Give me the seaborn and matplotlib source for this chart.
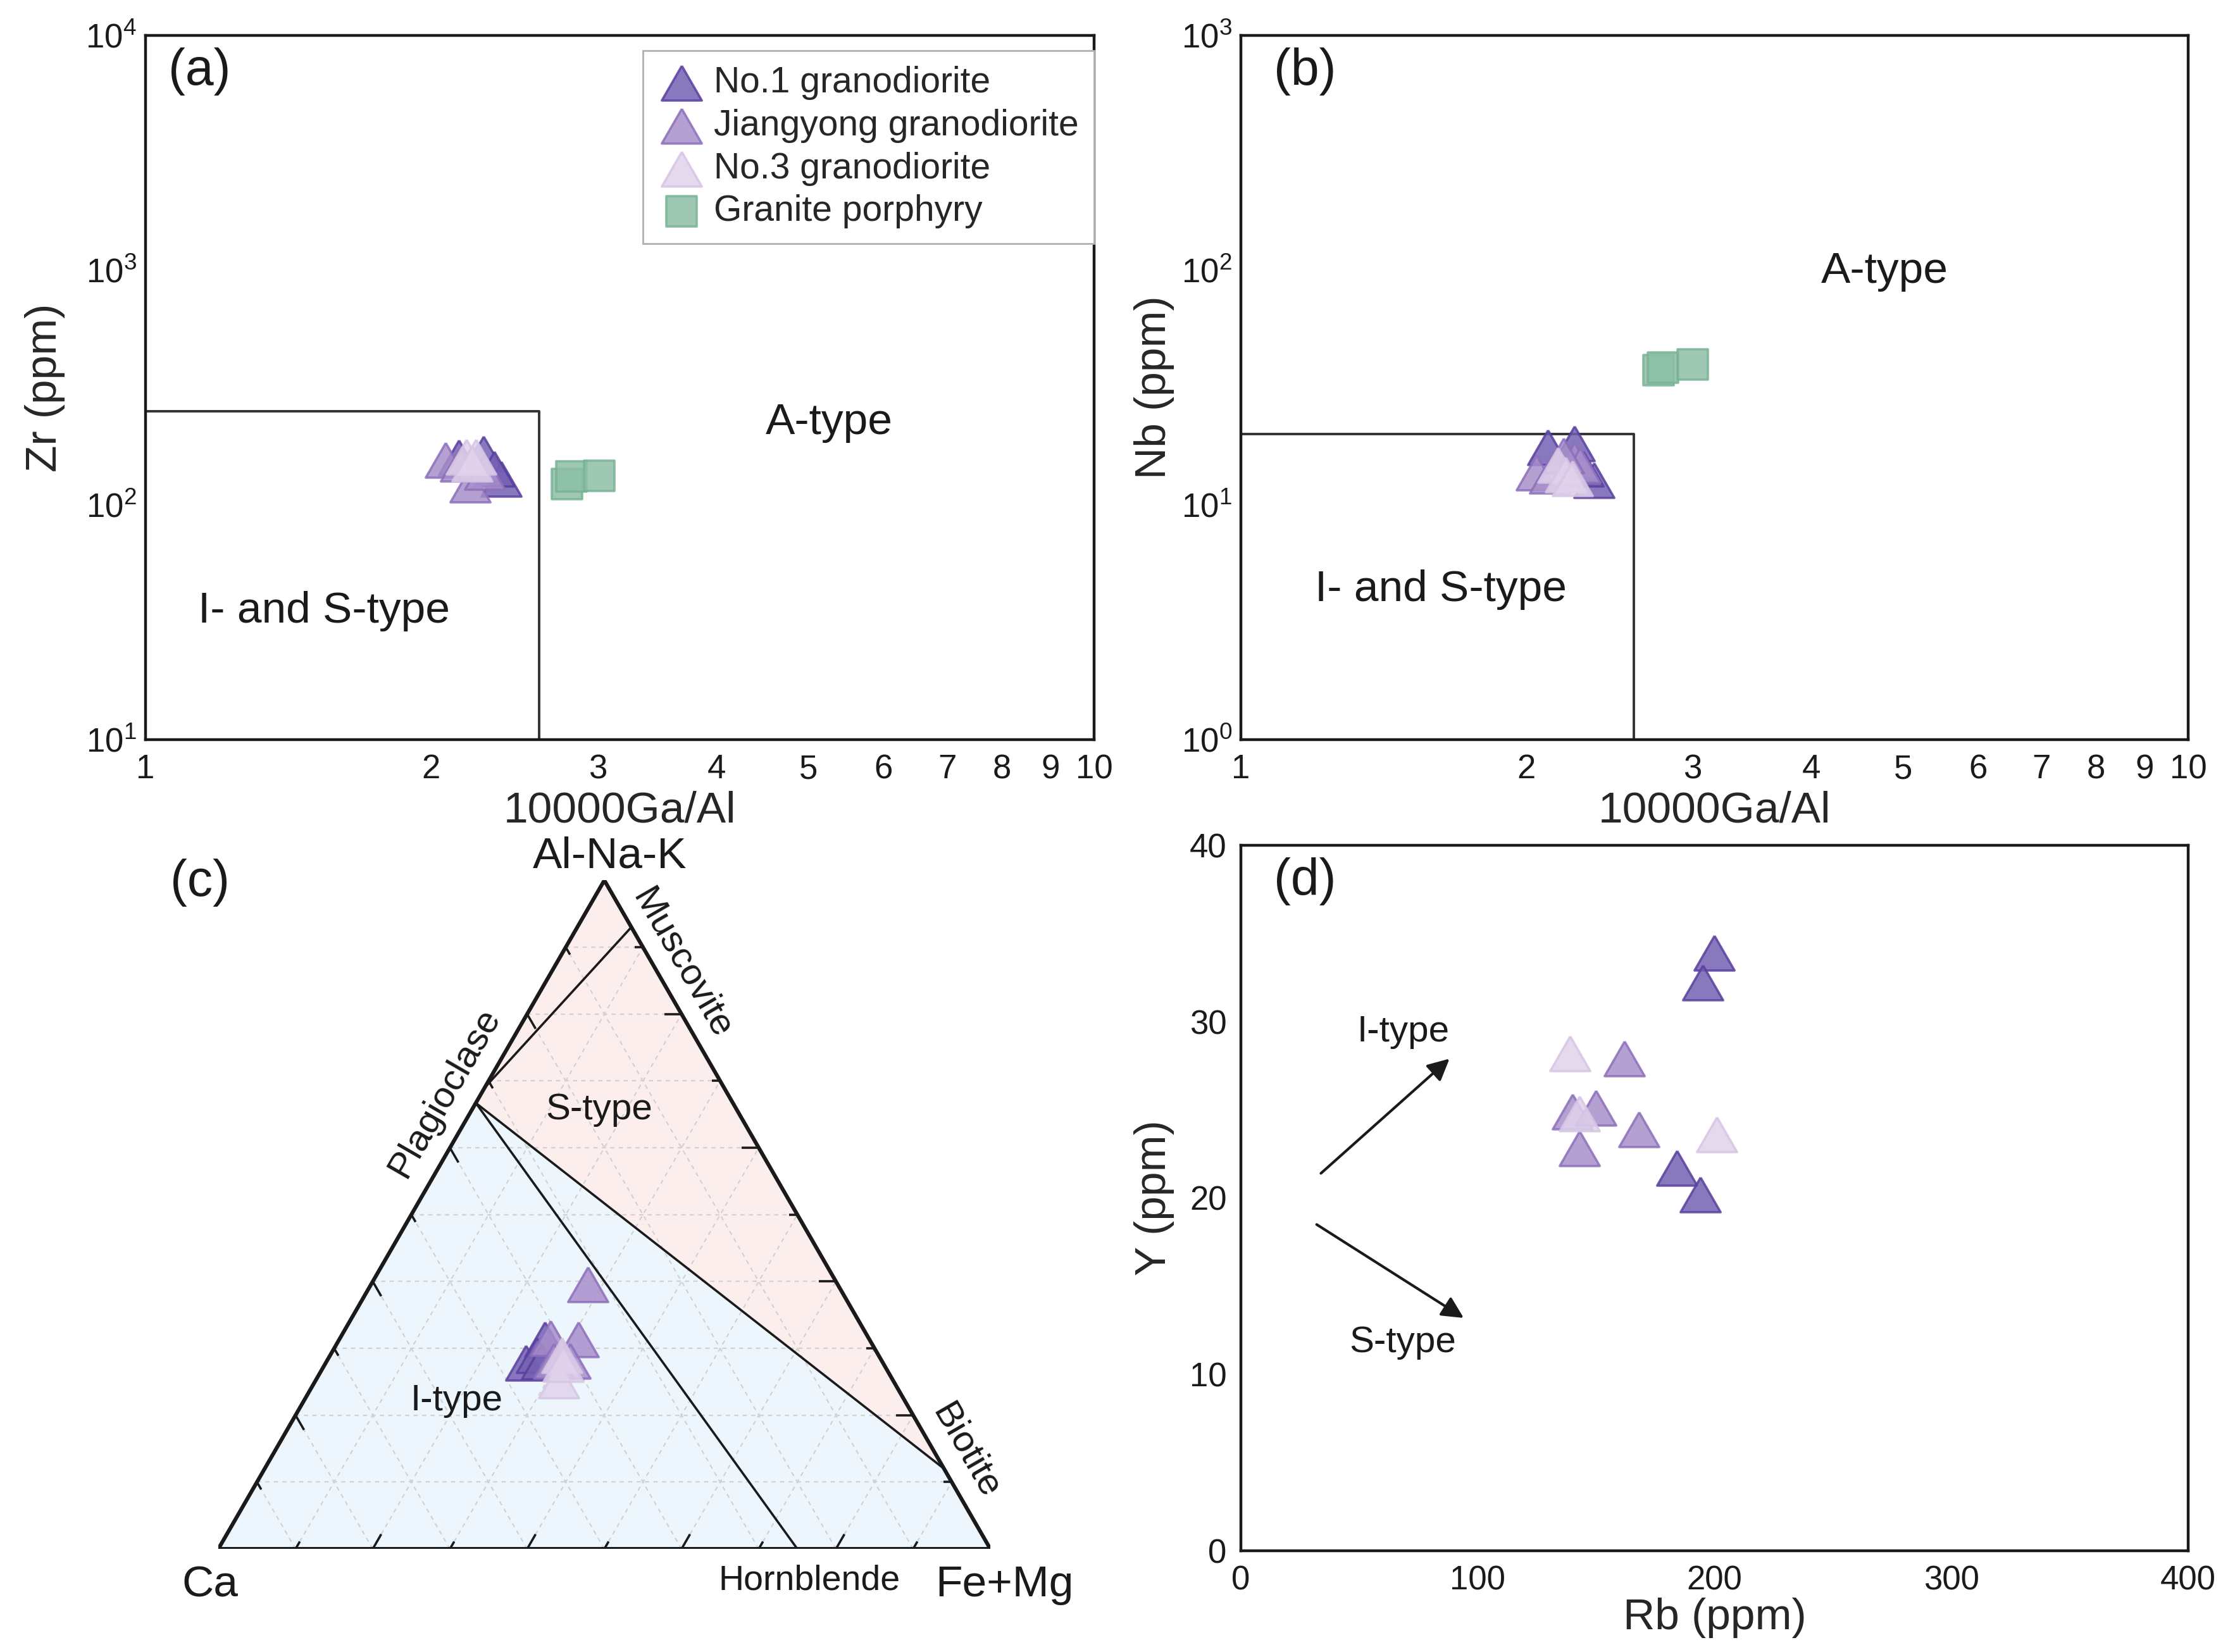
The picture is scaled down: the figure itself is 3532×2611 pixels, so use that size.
import matplotlib
matplotlib.use("Agg")
import matplotlib.pyplot as plt
import matplotlib.ticker as mticker
import numpy as np
import seaborn as sns

# ---------------- data ----------------
GROUPS = ["No.1 granodiorite", "Jiangyong granodiorite", "No.3 granodiorite", "Granite porphyry"]

# (a) 10000Ga/Al vs Zr
ga_al_a_no1 = [2.14, 2.27, 2.37, 2.33]
zr_no1 = [159, 165, 129, 142]
ga_al_a_jy = [2.07, 2.20, 2.15, 2.24, 2.28]
zr_jy = [155, 122, 150, 152, 138]
ga_al_a_no3 = [2.18, 2.23, 2.21]
zr_no3 = [160, 160, 150]
ga_al_a_gp = [2.78, 2.81, 3.01]
zr_gp = [123, 132, 133]

# (b) 10000Ga/Al vs Nb
ga_al_b_no1 = [2.11, 2.25, 2.36, 2.30]
nb_no1 = [17.6, 18.3, 12.7, 14.2]
ga_al_b_jy = [2.05, 2.25, 2.12, 2.28, 2.19]
nb_jy = [13.7, 15.5, 13.3, 14.8, 16.2]
ga_al_b_no3 = [2.16, 2.20, 2.24]
nb_no3 = [14.8, 13.5, 13.0]
ga_al_b_gp = [2.76, 2.79, 3.00]
nb_gp = [37.5, 38.5, 39.7]

# (c) Al-Na-K / Ca / Fe+Mg (%)
al_no1 = [27.8, 31.3, 29.0, 28.0]
ca_no1 = [46.3, 42.1, 44.3, 44.1]
femg_no1 = [25.9, 26.6, 26.7, 27.9]
al_jy = [39.6, 31.5, 31.3, 28.1, 28.1]
ca_jy = [32.3, 41.2, 37.7, 40.4, 42.5]
femg_jy = [28.1, 27.3, 31.0, 31.5, 29.4]
al_no3 = [29.0, 25.2, 27.6]
ca_no3 = [41.0, 43.3, 41.5]
femg_no3 = [30.0, 31.5, 30.9]

# mineral points (Al, Ca, FeMg)
PLAG = (66.7, 33.3, 0.0)
PLAG_TIE = (69.0, 31.0, 0.0)
MUSC = (93.0, 0.0, 7.0)
BIOT = (12.0, 0.0, 88.0)
HBL = (0.0, 25.0, 75.0)

# (d) Rb vs Y
rb_no1 = [200, 195, 184, 194]
y_no1 = [33.9, 32.2, 21.7, 20.2]
rb_jy = [162, 140, 150, 168, 143]
y_jy = [27.9, 24.9, 25.1, 23.9, 22.8]
rb_no3 = [139, 143, 201]
y_no3 = [28.2, 24.8, 23.6]

# discrimination boundaries
box_a_x = [1, 2.6, 2.6]
box_a_y = [250, 250, 10]
box_b_x = [1, 2.6, 2.6]
box_b_y = [20, 20, 1]

COLORS = {
    "No.1 granodiorite": ("#7360B2", "#5A3F9E"),
    "Jiangyong granodiorite": ("#A88FCB", "#8D6FBB"),
    "No.3 granodiorite": ("#E1D3EC", "#D6C5E4"),
    "Granite porphyry": ("#8DBFA7", "#78B394"),
}

TRI = [(0, 0.433), (-0.5, -0.433), (0.5, -0.433), (0, 0.433)]
TRI_S = 520
SQ_S = 310

sns.set_style("white")
plt.rcParams["font.family"] = ["Liberation Sans", "DejaVu Sans"]
plt.rcParams["mathtext.default"] = "regular"

INK = "#1a1a1a"


def scatter_group(ax, x, y, name, marker, s, zorder=4):
    face, edge = COLORS[name]
    sns.scatterplot(x=x, y=y, ax=ax, marker=marker, s=s, color=face,
                    edgecolor=edge, linewidth=1.3, alpha=0.85, label=name,
                    legend=False, zorder=zorder, clip_on=False)


def style_axes(ax):
    for sp in ax.spines.values():
        sp.set_linewidth(1.6)
        sp.set_color(INK)
    ax.tick_params(which="both", direction="in", top=False, right=False,
                   colors=INK, labelsize=19, width=1.2)
    ax.tick_params(which="major", length=9)
    ax.tick_params(which="minor", length=5)
    ax.tick_params(axis="x", pad=8)
    ax.tick_params(axis="y", pad=5)


def log_axes(ax, ymin, ymax):
    ax.set_xscale("log")
    ax.set_yscale("log")
    ax.set_xlim(1, 10)
    ax.set_ylim(ymin, ymax)
    ax.xaxis.set_major_locator(mticker.FixedLocator(range(1, 11)))
    ax.xaxis.set_major_formatter(mticker.FuncFormatter(lambda v, p: f"{v:g}"))
    ax.xaxis.set_minor_locator(mticker.NullLocator())
    ax.yaxis.set_major_locator(mticker.LogLocator(base=10))
    ax.yaxis.set_major_formatter(mticker.LogFormatterMathtext())
    ax.yaxis.set_minor_locator(mticker.LogLocator(base=10, subs=np.arange(2, 10)))
    ax.yaxis.set_minor_formatter(mticker.NullFormatter())


def tern(al, ca, femg):
    al, ca, femg = np.asarray(al, float), np.asarray(ca, float), np.asarray(femg, float)
    tot = al + ca + femg
    a, f = al / tot, femg / tot
    return f + a / 2, a * np.sqrt(3) / 2


fig = plt.figure(figsize=(17.66, 13.055), dpi=200)

# ---------------- (a) ----------------
ax_a = fig.add_axes([0.0651, 0.5523, 0.4244, 0.4263])
log_axes(ax_a, 10, 1e4)
ax_a.plot(box_a_x, box_a_y, color="#333333", lw=1.4, zorder=2)
scatter_group(ax_a, ga_al_a_no1, zr_no1, GROUPS[0], TRI, TRI_S)
scatter_group(ax_a, ga_al_a_jy, zr_jy, GROUPS[1], TRI, TRI_S)
scatter_group(ax_a, ga_al_a_no3, zr_no3, GROUPS[2], TRI, TRI_S)
scatter_group(ax_a, ga_al_a_gp, zr_gp, GROUPS[3], "s", SQ_S)
style_axes(ax_a)
ax_a.set_xlabel("10000Ga/Al", fontsize=25)
ax_a.set_ylabel("Zr (ppm)", fontsize=25)
ax_a.xaxis.set_label_coords(0.5, -0.072)
ax_a.yaxis.set_label_coords(-0.085, 0.5)
ax_a.text(0.721, 0.45, "A-type", transform=ax_a.transAxes, fontsize=25,
          ha="center", va="center", color=INK)
ax_a.text(0.188, 0.182, "I- and S-type", transform=ax_a.transAxes, fontsize=25,
          ha="center", va="center", color=INK)
leg = ax_a.legend(loc="upper right", bbox_to_anchor=(1.0, 0.978), frameon=True,
                  fancybox=False, fontsize=20.5, handletextpad=0.25,
                  labelspacing=0.24, borderpad=0.42, handlelength=1.3,
                  borderaxespad=0, framealpha=1)
leg.get_frame().set_edgecolor("#b0b0b0")
leg.get_frame().set_linewidth(1.0)

# ---------------- (b) ----------------
ax_b = fig.add_axes([0.5552, 0.5523, 0.4238, 0.4263])
log_axes(ax_b, 1, 1e3)
ax_b.plot(box_b_x, box_b_y, color="#333333", lw=1.4, zorder=2)
scatter_group(ax_b, ga_al_b_no1, nb_no1, GROUPS[0], TRI, TRI_S)
scatter_group(ax_b, ga_al_b_jy, nb_jy, GROUPS[1], TRI, TRI_S)
scatter_group(ax_b, ga_al_b_no3, nb_no3, GROUPS[2], TRI, TRI_S)
scatter_group(ax_b, ga_al_b_gp, nb_gp, GROUPS[3], "s", SQ_S)
style_axes(ax_b)
ax_b.set_xlabel("10000Ga/Al", fontsize=25)
ax_b.set_ylabel("Nb (ppm)", fontsize=25)
ax_b.xaxis.set_label_coords(0.5, -0.072)
ax_b.yaxis.set_label_coords(-0.07, 0.5)
ax_b.text(0.68, 0.665, "A-type", transform=ax_b.transAxes, fontsize=25,
          ha="center", va="center", color=INK)
ax_b.text(0.211, 0.213, "I- and S-type", transform=ax_b.transAxes, fontsize=25,
          ha="center", va="center", color=INK)

# ---------------- (c) ternary ----------------
H = np.sqrt(3) / 2
ax_c = fig.add_axes([0.0977, 0.0624, 0.3454, 0.4047])
ax_c.set_xlim(0, 1)
ax_c.set_ylim(0, H)
ax_c.axis("off")

px, py = tern(*PLAG)
bx, by = tern(*BIOT)
mx, my = tern(*MUSC)
tx, ty = tern(*PLAG_TIE)
hx, hy = tern(*HBL)
ax_c.fill([0, px, bx, 1], [0, py, by, 0], color="#EDF6FD", lw=0, zorder=0)
ax_c.fill([0.5, px, bx], [H, py, by], color="#FDEEEE", lw=0, zorder=0)

# dashed grid
for i in range(1, 10):
    v = i / 10
    gkw = dict(color="#d2d2d2", lw=0.8, ls=(0, (3, 3)), zorder=1)
    ax_c.plot([v / 2, 1 - v / 2], [v * H, v * H], **gkw)
    ax_c.plot([v, v + (1 - v) / 2], [0, (1 - v) * H], **gkw)
    ax_c.plot([1 - v, (1 - v) / 2], [0, (1 - v) * H], **gkw)

# ticks on edges
for i in range(1, 10):
    v = i / 10
    L = 0.022 if i % 2 == 0 else 0.011
    tkw = dict(color=INK, lw=1.3, zorder=3, solid_capstyle="butt")
    ax_c.plot([v, v + 0.5 * L], [0, H * L], **tkw)
    ax_c.plot([v / 2, v / 2 + 0.5 * L], [v * H, v * H - H * L], **tkw)
    ax_c.plot([1 - v / 2, 1 - v / 2 - L], [v * H, v * H], **tkw)

# tie lines
lkw = dict(color=INK, lw=1.3, zorder=2)
ax_c.plot([px, hx], [py, hy], **lkw)
ax_c.plot([px, bx], [py, by], **lkw)
ax_c.plot([tx, mx], [ty, my], **lkw)
ax_c.plot([0, 1, 0.5, 0], [0, 0, H, 0], color=INK, lw=2.2, zorder=3,
          solid_joinstyle="miter")

for al, ca, fm, name in [(al_no1, ca_no1, femg_no1, GROUPS[0]),
                         (al_jy, ca_jy, femg_jy, GROUPS[1]),
                         (al_no3, ca_no3, femg_no3, GROUPS[2])]:
    xx, yy = tern(al, ca, fm)
    scatter_group(ax_c, xx, yy, name, TRI, TRI_S)

ax_c.text(0.507, 0.897, "Al-Na-K", fontsize=25, ha="center", va="center", color=INK)
ax_c.text(-0.011, -0.047, "Ca", fontsize=25, ha="center", va="center", color=INK)
ax_c.text(1.018, -0.047, "Fe+Mg", fontsize=25, ha="center", va="center", color=INK)
ax_c.text(0.766, -0.041, "Hornblende", fontsize=20, ha="center", va="center", color=INK)
ax_c.text(0.293, 0.591, "Plagioclase", fontsize=21, rotation=60, ha="center",
          va="center", color=INK)
ax_c.text(0.60, 0.758, "Muscovite", fontsize=21, rotation=-60, ha="center",
          va="center", color=INK)
ax_c.text(0.968, 0.127, "Biotite", fontsize=21, rotation=-60, ha="center",
          va="center", color=INK)
ax_c.text(0.493, 0.569, "S-type", fontsize=21, ha="center", va="center", color=INK)
ax_c.text(0.309, 0.192, "I-type", fontsize=21, ha="center", va="center", color=INK)

# ---------------- (d) ----------------
ax_d = fig.add_axes([0.5552, 0.0613, 0.4238, 0.4270])
scatter_group(ax_d, rb_no1, y_no1, GROUPS[0], TRI, TRI_S)
scatter_group(ax_d, rb_jy, y_jy, GROUPS[1], TRI, TRI_S)
scatter_group(ax_d, rb_no3, y_no3, GROUPS[2], TRI, TRI_S)
ax_d.set_xlim(0, 400)
ax_d.set_ylim(0, 40)
ax_d.xaxis.set_major_locator(mticker.MultipleLocator(100))
ax_d.xaxis.set_minor_locator(mticker.MultipleLocator(50))
ax_d.yaxis.set_major_locator(mticker.MultipleLocator(10))
ax_d.yaxis.set_minor_locator(mticker.MultipleLocator(5))
style_axes(ax_d)
ax_d.tick_params(axis="y", pad=8)
ax_d.tick_params(axis="x", which="minor", length=9)
ax_d.set_xlabel("Rb (ppm)", fontsize=25)
ax_d.set_ylabel("Y (ppm)", fontsize=25)
ax_d.xaxis.set_label_coords(0.5, -0.066)
ax_d.yaxis.set_label_coords(-0.07, 0.5)
akw = dict(arrowstyle="-|>", color=INK, lw=1.5, mutation_scale=26,
           shrinkA=0, shrinkB=0)
ax_d.annotate("", xy=(88.1, 27.9), xytext=(33.8, 21.4), arrowprops=akw)
ax_d.annotate("", xy=(94.1, 13.2), xytext=(32.0, 18.5), arrowprops=akw)
ax_d.text(68.5, 29.4, "I-type", fontsize=21, ha="center", va="center", color=INK)
ax_d.text(68.5, 11.8, "S-type", fontsize=21, ha="center", va="center", color=INK)

# panel letters
for lab, xx, yy in [("(a)", 0.0753, 0.9567), ("(b)", 0.570, 0.9567),
                    ("(c)", 0.0761, 0.4657), ("(d)", 0.570, 0.4665)]:
    fig.text(xx, yy, lab, fontsize=29, ha="left", va="center", color=INK)

fig.savefig("out.png", dpi=200, facecolor="white")
